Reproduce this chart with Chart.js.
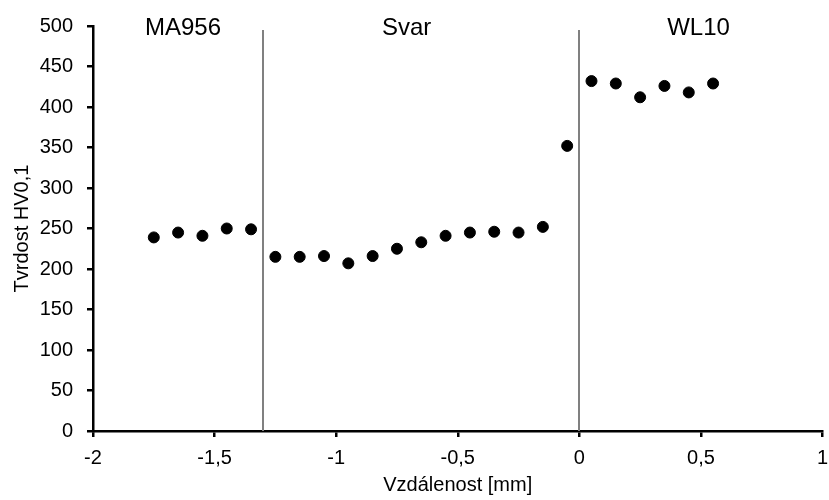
<!DOCTYPE html>
<html>
<head>
<meta charset="utf-8">
<script src="https://cdn.jsdelivr.net/npm/chart.js@4"></script>
<style>
  html, body { margin: 0; padding: 0; background: #fff; }
  #wrap { width: 829px; height: 500px; position: relative; }
</style>
</head>
<body>
<div id="wrap"><canvas id="graf"></canvas></div>
<script>
// data
const vzdalenost = [-1.75, -1.65, -1.55, -1.45, -1.35, -1.25, -1.15, -1.05, -0.95, -0.85, -0.75, -0.65,
                    -0.55, -0.45, -0.35, -0.25, -0.15, -0.05, 0.05, 0.15, 0.25, 0.35, 0.45, 0.55];
const tvrdost = [239, 245, 241, 250, 249, 215, 215, 216, 207, 216, 225, 233,
                 241, 245, 246, 245, 252, 352, 432, 429, 412, 426, 418, 429];
const hranice = [-1.3, 0];
const oblasti = ['MA956', 'Svar', 'WL10'];
const oblastiX = [-1.63, -0.71, 0.49];

const FONT = 'Arial, "Liberation Sans", sans-serif';

// svislé hranice + popisky oblastí
const hranicePlugin = {
    id: 'hranice',
    afterDatasetsDraw(chart) {
        const { ctx, scales: { x, y } } = chart;
        ctx.save();
        ctx.strokeStyle = '#808080';
        ctx.lineWidth = 2;
        hranice.forEach(h => {
            const px = Math.round(x.getPixelForValue(h));
            ctx.beginPath();
            ctx.moveTo(px, y.getPixelForValue(495));
            ctx.lineTo(px, y.getPixelForValue(0));
            ctx.stroke();
        });
        ctx.fillStyle = '#000';
        ctx.font = '24px ' + FONT;
        ctx.textAlign = 'center';
        ctx.textBaseline = 'middle';
        oblasti.forEach((t, i) => {
            ctx.fillText(t, x.getPixelForValue(oblastiX[i]), y.getPixelForValue(500) + 2);
        });
        ctx.restore();
    }
};

new Chart(document.getElementById('graf'), {
    type: 'scatter',
    data: {
        datasets: [{
            data: vzdalenost.map((v, i) => ({ x: v, y: tvrdost[i] })),
            backgroundColor: '#000',
            borderColor: '#000',
            pointRadius: 5.5,
            pointHoverRadius: 5.5
        }]
    },
    options: {
        responsive: true,
        maintainAspectRatio: false,
        animation: false,
        layout: { padding: { top: 24, right: 6, left: 0, bottom: 0 } },
        plugins: { legend: { display: false }, tooltip: { enabled: false } },
        scales: {
            x: {
                type: 'linear',
                min: -2, max: 1,
                ticks: {
                    stepSize: 0.5,
                    color: '#000',
                    font: { family: FONT, size: 20 },
                    padding: 9,
                    callback: v => String(v).replace('.', ',')
                },
                grid: { drawOnChartArea: false, tickLength: 6, color: '#000', lineWidth: 2.5 },
                border: { color: '#000', width: 2.5 },
                title: { display: true, text: 'Vzdálenost [mm]', color: '#000', font: { family: FONT, size: 20 }, padding: { top: 0, bottom: 3 } },
                afterFit(s) { s.height = 69; s.paddingLeft = 0; s.paddingRight = 0; }
            },
            y: {
                min: 0, max: 500,
                ticks: {
                    stepSize: 50,
                    color: '#000',
                    font: { family: FONT, size: 20 },
                    padding: 14
                },
                grid: { drawOnChartArea: false, tickLength: 6, color: '#000', lineWidth: 2.5 },
                border: { color: '#000', width: 2.5 },
                title: { display: true, text: 'Tvrdost HV0,1', color: '#000', font: { family: FONT, size: 20 }, padding: { top: 10, bottom: 0 } },
                afterFit(s) { s.width = 93; }
            }
        }
    },
    plugins: [hranicePlugin]
});
</script>
</body>
</html>
